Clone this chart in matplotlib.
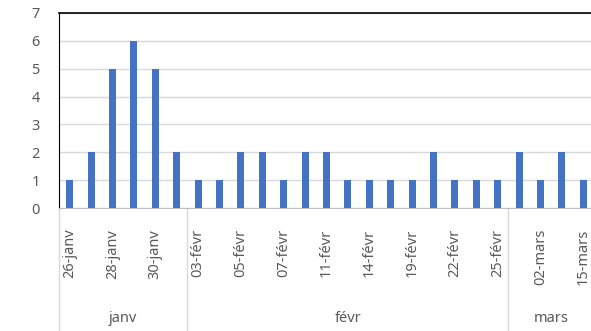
import matplotlib
matplotlib.use('Agg')
import matplotlib.pyplot as plt
from matplotlib.lines import Line2D

plt.rcParams['font.family'] = ['Noto Sans', 'DejaVu Sans']

# dates (every other one is shown on the axis, as in Excel)
jours = ['26-janv', '27-janv', '28-janv', '29-janv', '30-janv', '31-janv',
         '03-févr', '04-févr', '05-févr', '06-févr', '07-févr', '10-févr',
         '11-févr', '12-févr', '14-févr', '18-févr', '19-févr', '21-févr',
         '22-févr', '24-févr', '25-févr',
         '01-mars', '02-mars', '10-mars', '15-mars']
valeurs = [1, 2, 5, 6, 5, 2,
           1, 1, 2, 2, 1, 2, 2, 1, 1, 1, 1, 2, 1, 1, 1,
           2, 1, 2, 1]
mois = ['janv', 'févr', 'mars']
nb_par_mois = [6, 15, 4]

bleu = '#4472C4'
gris_txt = '#595959'
gris_grille = '#D9D9D9'

fig = plt.figure(figsize=(5.91, 3.31), dpi=100)
ax = fig.add_axes([59/591, 1 - 208/331, 535/591, 195/331])

x = list(range(len(jours)))
ax.bar(x, valeurs, width=0.33, color=bleu, zorder=3)

ax.set_xlim(-0.5, len(jours) - 0.5)
ax.set_ylim(0, 7)
ax.set_yticks(range(0, 8))
ax.tick_params(axis='y', length=0, labelsize=10.5, labelcolor=gris_txt, pad=14)
ax.yaxis.grid(True, color=gris_grille, linewidth=1, zorder=0)

ax.set_xticks(x[::2])
ax.set_xticklabels(jours[::2], rotation=90, fontsize=10.5, color=gris_txt)
ax.tick_params(axis='x', length=0, pad=15)

ax.spines['right'].set_visible(False)
ax.spines['left'].set_color('black')
ax.spines['top'].set_color('black')
ax.spines['top'].set_linewidth(1.2)
ax.spines['bottom'].set_color('#BFBFBF')

# separateurs des mois sous l'axe
tr = ax.get_xaxis_transform()
bas = -(331 - 208) / 195
debut = -0.5
for nom, n in zip(mois, nb_par_mois):
    ax.add_line(Line2D([debut, debut], [0, bas], transform=tr, color=gris_grille,
                       linewidth=1, clip_on=False))
    ax.text(debut + n / 2, -(318 - 208) / 195, nom, transform=tr, ha='center',
            va='center', fontsize=10.5, color=gris_txt)
    debut += n
ax.add_line(Line2D([debut, debut], [0, bas], transform=tr, color=gris_grille,
                   linewidth=1, clip_on=False))

fig.savefig('out.png', dpi=100)
